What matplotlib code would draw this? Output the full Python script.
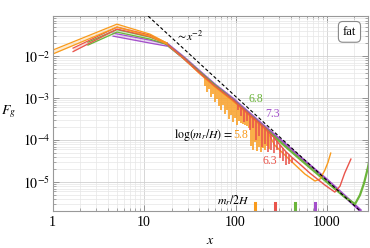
import numpy as np
import matplotlib
matplotlib.use("Agg")
import matplotlib.pyplot as plt
from matplotlib.ticker import FixedLocator, FixedFormatter, LogLocator, NullFormatter

plt.rcParams["font.family"] = "serif"
plt.rcParams["font.serif"] = ["Liberation Serif", "DejaVu Serif"]
plt.rcParams["mathtext.fontset"] = "stix"

nan = np.nan

# ---- data ------------------------------------------------------------------
log_mr_H = ["5.8", "6.3", "6.8", "7.3"]
colors = ["#F99B1C", "#E9544B", "#6BB53A", "#A34FCB"]
mr_2H = [165, 272, 449, 740]

# early-time bands (upper / lower line of each run)
band_x = {
    "5.8": [1.0, 5.05, 11.6, 17.8],
    "6.3": [1.67, 5.05, 11.6, 17.8],
    "6.8": [2.43, 5.05, 11.6, 17.8],
    "7.3": [4.57, 11.6, 17.8],
}
band_hi = {
    "5.8": [0.0139, 0.0577, 0.0334, 0.0204],
    "6.3": [0.0155, 0.0490, 0.0316, 0.0204],
    "6.8": [0.0215, 0.0428, 0.0283, 0.0204],
    "7.3": [0.0353, 0.0240, 0.0193],
}
band_lo = {
    "5.8": [0.0112, 0.0490, 0.0299, 0.0193],
    "6.3": [0.0128, 0.0439, 0.0291, 0.0193],
    "6.8": [0.0183, 0.0373, 0.0254, 0.0188],
    "7.3": [0.0299, 0.0204, 0.0173],
}

# late-time curves; *_dip = bottom of the oscillation spikes (nan: no spike)
orange_x = [17.8, 26.7, 41,
            46.4, 48.8, 51.3, 54.0, 56.8, 59.7, 62.8, 66.1, 69.4, 73.0,
            76.8, 80.7, 84.9, 89.3, 93.9, 98.8, 104, 109, 115, 121,
            127, 134, 141, 148, 155, 163, 172, 181, 190, 200, 210, 221, 232,
            268, 395, 575, 740, 840, 950, 1030, 1100]
orange_F = [0.0193, 8.96e-3, 3.73e-3,
            2.95e-3, 2.67e-3, 2.43e-3, 2.21e-3, 2.00e-3, 1.83e-3, 1.67e-3, 1.54e-3, 1.41e-3, 1.30e-3,
            1.19e-3, 1.10e-3, 1.00e-3, 9.26e-4, 8.48e-4, 7.69e-4, 7.0e-4, 6.34e-4, 5.75e-4, 5.24e-4,
            4.74e-4, 4.30e-4, 3.92e-4, 3.55e-4, 3.24e-4, 2.94e-4, 2.67e-4, 2.43e-4, 2.21e-4, 2.00e-4,
            1.83e-4, 1.64e-4, 1.39e-4,
            7.6e-5, 3.34e-5, 1.55e-5, 1.06e-5, 1.18e-5, 1.93e-5, 3.0e-5, 4.9e-5]
orange_dip = [nan, nan, nan,
              1.93e-3, 1.39e-3, 1.64e-3, 1.06e-3, 1.24e-3, 8.03e-4, 9.45e-4, 6.45e-4, 5.18e-4, 6.81e-4,
              4.17e-4, 5.18e-4, 3.16e-4, 3.94e-4, 2.68e-4, 3.34e-4, 2.28e-4, 2.83e-4, 2.54e-4, 2.40e-4,
              2.30e-4, 2.15e-4, 1.90e-4, 7.2e-5, 5.78e-5, 8.96e-5, 5.47e-5, 6.81e-5, 5.18e-5, 6.45e-5,
              5.78e-5, 7.2e-5, 6.11e-5,
              nan, nan, nan, nan, nan, nan, nan, nan]

red_x = [17.8, 26.7, 41, 59.6, 94,
         98.8, 106.5, 115, 124, 134, 144, 155, 168, 181, 195, 210, 227, 244,
         264, 284, 307, 331, 357, 385, 415, 448,
         506, 650, 950, 1220, 1390, 1565, 1830]
red_F = [0.0193, 9.21e-3, 3.94e-3, 1.93e-3, 8.96e-4,
         8.13e-4, 6.97e-4, 6.07e-4, 5.26e-4, 4.54e-4, 3.94e-4, 3.41e-4, 2.96e-4, 2.57e-4,
         2.23e-4, 1.93e-4, 1.63e-4, 1.38e-4, 1.14e-4, 9.36e-5, 7.69e-5, 6.34e-5, 5.24e-5,
         4.52e-5, 3.85e-5, 3.36e-5,
         2.68e-5, 1.64e-5, 8.5e-6, 5.78e-6, 8.0e-6, 1.64e-5, 3.53e-5]
red_dip = [nan, nan, nan, nan, nan,
           nan, 5.18e-4, 3.73e-4, 2.68e-4, 2.83e-4, 1.73e-4, 1.93e-4, 1.0e-4, 1.24e-4,
           6.81e-5, 8.03e-5, 5.18e-5, 5.78e-5, 4.9e-5, 5.78e-5, 3.73e-5, 3.16e-5, 2.54e-5,
           2.68e-5, 2.83e-5, nan,
           nan, nan, nan, nan, nan, nan, nan]

green_x = [17.8, 26.7, 41, 59.6, 94, 144, 210, 347, 506, 1000, 1565, 2030, 2300, 2550, 2800, 3000]
green_F = [0.0188, 9.21e-3, 4.05e-3, 1.99e-3, 8.96e-4, 3.94e-4, 1.93e-4, 7.20e-5, 3.53e-5,
           1.00e-5, 4.40e-6, 3.00e-6, 4.92e-6, 9.47e-6, 2.15e-5, 4.4e-5]

purple_x = [17.8, 26.7, 41, 59.6, 94, 144, 210, 347, 506, 1000, 1565, 2300]
purple_F = [0.0193, 9.47e-3, 4.16e-3, 2.04e-3, 9.45e-4, 4.17e-4, 2.04e-4, 8.03e-5, 3.93e-5,
            1.12e-5, 4.64e-6, 2.15e-6]

late_x = {"5.8": orange_x, "6.3": red_x, "6.8": green_x, "7.3": purple_x}
late_F = {"5.8": orange_F, "6.3": red_F, "6.8": green_F, "7.3": purple_F}
late_dip = {"5.8": orange_dip, "6.3": red_dip}
late_lw = {"5.8": 1.0, "6.3": 1.0, "6.8": 1.6, "7.3": 2.2}
band_order = ["7.3", "6.8", "6.3", "5.8"]
late_order = ["7.3", "6.8", "5.8", "6.3"]

# ~x^-2 guide, end points
guide_x = [10, 3000]
guide_F = [0.11, 1.22e-6]

xtick_vals = [1, 10, 100, 1000]
xtick_labels = ["1", "10", "100", "1000"]
ytick_vals = [1e-5, 1e-4, 1e-3, 1e-2]
ytick_labels = ["$10^{-5}$", "$10^{-4}$", "$10^{-3}$", "$10^{-2}$"]

# ---- figure ----------------------------------------------------------------
fig = plt.figure(figsize=(3.7, 2.48), dpi=100)
ax = fig.add_axes([0.1424, 0.151, 0.8524, 0.784])
ax.set_xscale("log")
ax.set_yscale("log")
ax.set_xlim(1, 2820)
ax.set_ylim(2.1e-6, 0.0896)

color_of = dict(zip(log_mr_H, colors))

# late-time curves first, early-time bands on top
for key in late_order:
    c = color_of[key]
    ax.plot(late_x[key], late_F[key], color=c, lw=late_lw[key])
    if key in late_dip:
        ax.vlines(late_x[key], late_dip[key], late_F[key], color=c, lw=1.15)

for key in band_order:
    c = color_of[key]
    ax.fill_between(band_x[key], band_lo[key], band_hi[key], color=c, alpha=0.2, lw=0)
    ax.plot(band_x[key], band_hi[key], color=c, lw=0.9)
    ax.plot(band_x[key], band_lo[key], color=c, lw=0.9)

ax.plot(guide_x, guide_F, color="black", ls=(0, (3, 2)), lw=0.8, zorder=5)

# m_r / 2H markers
for xm, c in zip(mr_2H, colors):
    ax.axvline(xm, ymin=0, ymax=0.04, color=c, lw=2.2)

# annotations
ax.text(22.3, 0.0283, r"$\sim\!x^{-2}$", fontsize=8.5, ha="left", va="center")
ax.text(93.9, 1.32e-4, r"$\log(m_r/H)\,=\,$", fontsize=8.5, ha="right", va="center")
ax.text(95.5, 1.32e-4, "5.8", color=colors[0], fontsize=8.5, ha="left", va="center")
ax.text(238, 3.16e-5, "6.3", color=colors[1], fontsize=8.5, ha="center", va="center")
ax.text(168, 9.45e-4, "6.8", color=colors[2], fontsize=8.5, ha="center", va="center")
ax.text(257, 4.17e-4, "7.3", color=colors[3], fontsize=8.5, ha="center", va="center")
ax.text(141, 3.5e-6, r"$m_r/2H$", fontsize=8.5, ha="right", va="center")

ax.text(0.941, 0.919, "fat", transform=ax.transAxes, fontsize=9, ha="center", va="center",
        bbox=dict(boxstyle="round,pad=0.35", fc="white", ec="#888888", lw=0.8))

# axes styling
ax.xaxis.set_major_locator(FixedLocator(xtick_vals))
ax.xaxis.set_major_formatter(FixedFormatter(xtick_labels))
ax.yaxis.set_major_locator(FixedLocator(ytick_vals))
ax.yaxis.set_major_formatter(FixedFormatter(ytick_labels))
ax.xaxis.set_minor_locator(LogLocator(base=10, subs=np.arange(2, 10), numticks=20))
ax.yaxis.set_minor_locator(LogLocator(base=10, subs=np.arange(2, 10), numticks=20))
ax.xaxis.set_minor_formatter(NullFormatter())
ax.yaxis.set_minor_formatter(NullFormatter())
ax.tick_params(which="both", direction="in", top=True, right=True, colors="#888888",
               labelcolor="black", labelsize=10)
ax.tick_params(which="major", length=4, width=0.6)
ax.tick_params(which="minor", length=2, width=0.5)
ax.tick_params(axis="x", pad=4)
ax.tick_params(axis="y", pad=2)
for s in ax.spines.values():
    s.set_color("#999999")
    s.set_linewidth(0.8)

ax.grid(True, which="major", color="#d0d0d0", lw=0.6)
ax.grid(True, which="minor", color="#e6e6e6", lw=0.5)
ax.set_axisbelow(True)

fig.text(9 / 370, 1 - 112 / 248, "$F_g$", fontsize=10, ha="center", va="center")
fig.text(210 / 370, 1 - 240 / 248, "$x$", fontsize=10, ha="center", va="center")

fig.savefig("out.png", dpi=100)
